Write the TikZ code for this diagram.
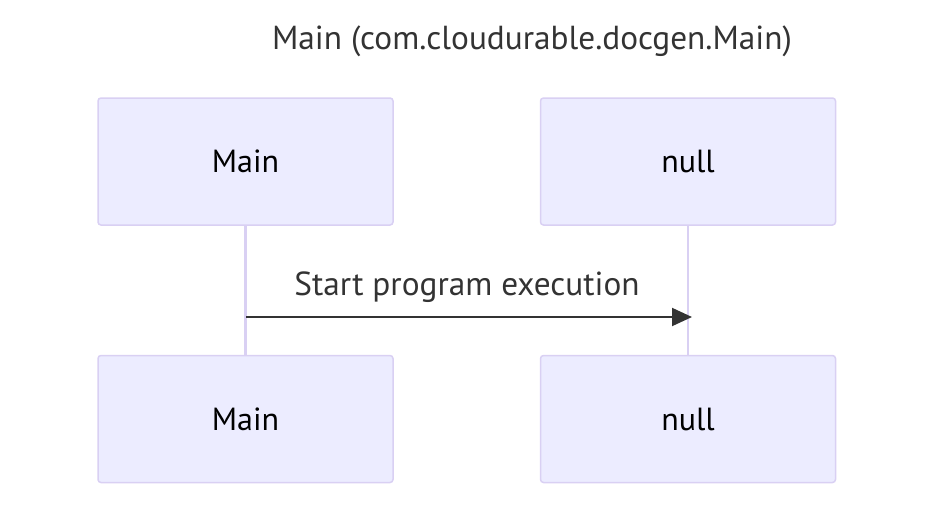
\documentclass[tikz,border=0pt]{standalone}
\usepackage{fontspec}
\setmainfont{PT Sans}
\usetikzlibrary{arrows.meta}
\definecolor{actfill}{HTML}{ECECFF}
\definecolor{actline}{HTML}{D9D0F3}
\definecolor{msgc}{HTML}{333333}
\tikzset{
  actor/.style={draw=actline, line width=1.5pt, fill=actfill, rounded corners=3pt,
    minimum width=295pt, minimum height=127pt, inner sep=0pt,
    font=\fontsize{32}{38}\selectfont, text=black},
  life/.style={draw=actline, line width=2.5pt},
  msg/.style={draw=msgc, line width=2pt, -{Triangle[length=20pt,width=18pt]}},
  lbl/.style={text=msgc, font=\fontsize{33.3}{40}\selectfont},
}
\begin{document}
\begin{tikzpicture}[x=1pt,y=-1pt]
\useasboundingbox (0,0) rectangle (950,514);
\node[lbl] (title) at (532,41) {Main (com.cloudurable.docgen.Main)};
\node[actor] (mt) at (245.5,161.5) {Main};
\node[actor] (nt) at (688,161.5) {null};
\node[actor] (mb) at (245.5,419) {Main};
\node[actor] (nb) at (688,419) {null};
\draw[life] (mt.south) -- (mb.north);
\draw[life] (nt.south) -- (nb.north);
\coordinate (a1) at (246,317);
\coordinate (a2) at (692,317);
\draw[msg] (a1) -- (a2);
\node[lbl] (msgl) at (467,287) {Start program execution};
\end{tikzpicture}
\end{document}
